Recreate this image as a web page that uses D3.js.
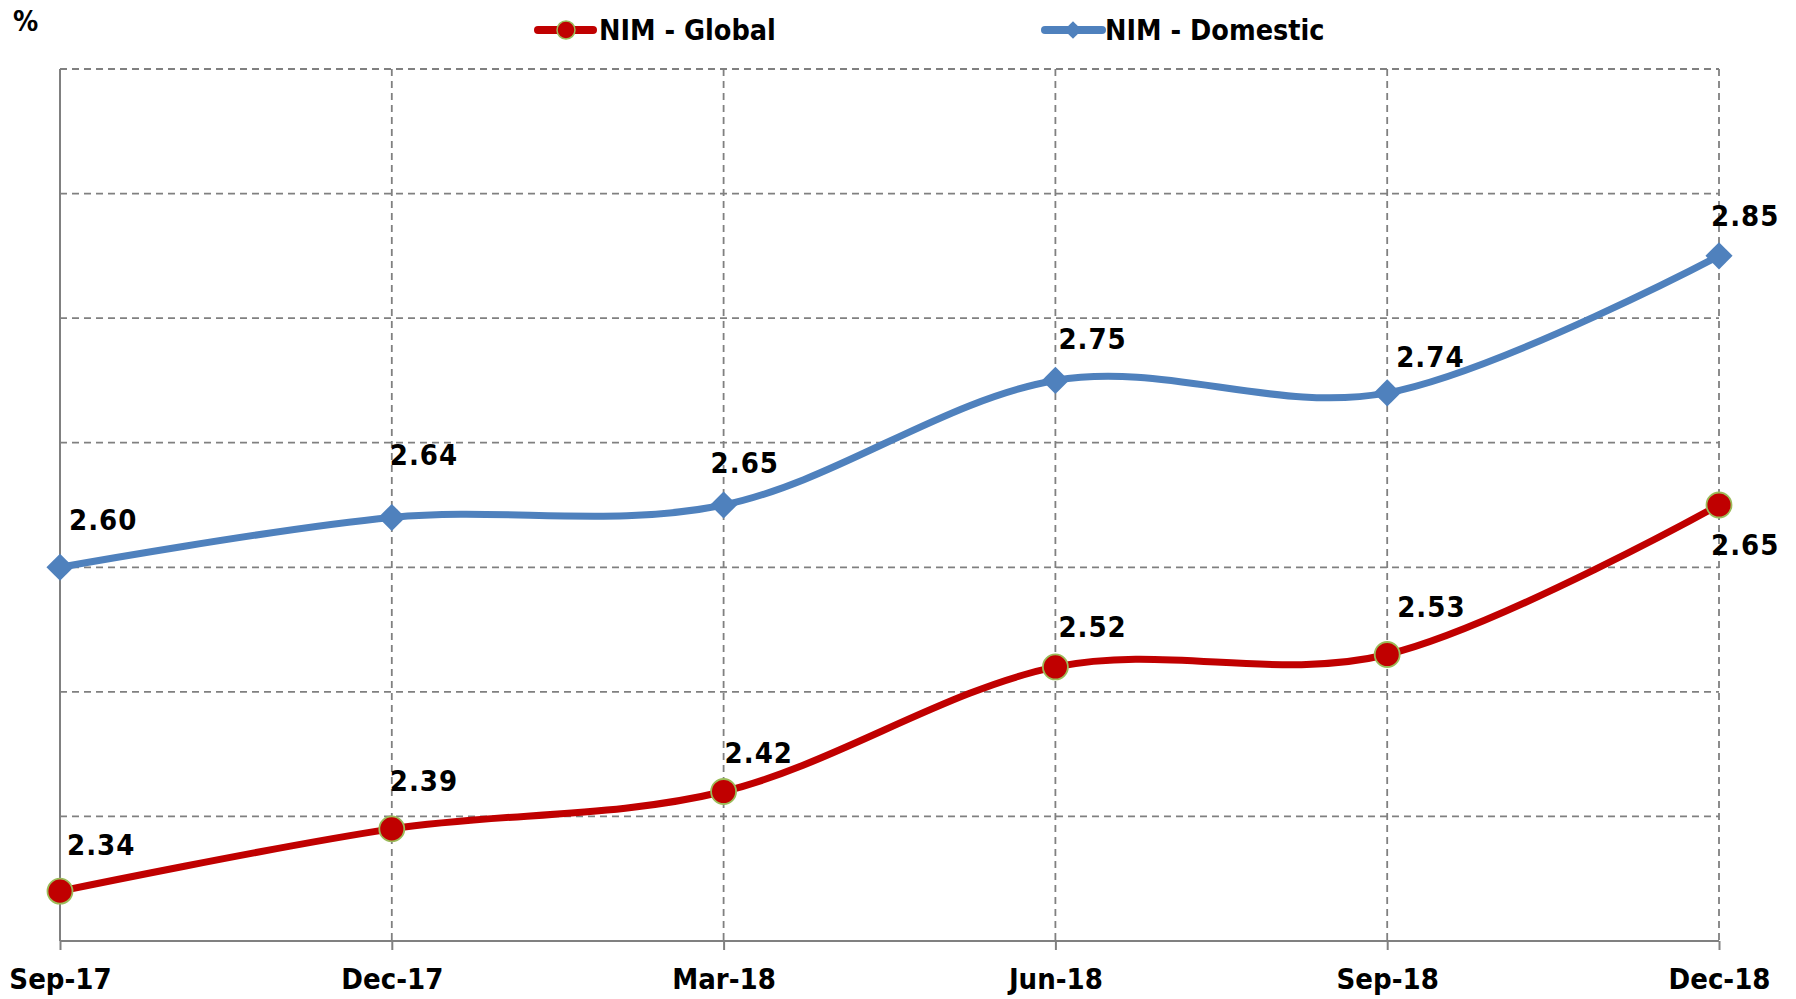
<!DOCTYPE html>
<html>
<head>
<meta charset="utf-8">
<script src="https://cdn.jsdelivr.net/npm/d3@7"></script>
<style>
  body { margin: 0; background: #fff; }
  text { font-family: "DejaVu Sans Condensed", "DejaVu Sans", sans-serif; font-weight: bold; font-stretch: condensed; fill: #000; }
</style>
</head>
<body>
<svg id="chart" width="1796" height="999"></svg>
<script>
// data
var quarters = ["Sep-17", "Dec-17", "Mar-18", "Jun-18", "Sep-18", "Dec-18"];
var nimGlobal = [2.34, 2.39, 2.42, 2.52, 2.53, 2.65];
var nimDomestic = [2.60, 2.64, 2.65, 2.75, 2.74, 2.85];
var yTicks = [2.3, 2.4, 2.5, 2.6, 2.7, 2.8, 2.9, 3.0];

// label nudges (px, relative to the point)
var domOffsets = [[9, -48], [-2, -63], [-13, -42], [3, -42], [9, -36], [-8, -40]];
var globOffsets = [[7, -47], [-2, -48], [1, -39], [3, -40], [10, -48], [-8, 40]];

var plotLeft = 60, plotRight = 1719, plotTop = 69, plotBottom = 941;
var red = "#C00000", blue = "#4F81BD", grid = "#808080";

var svg = d3.select("#chart");

var x = d3.scalePoint()
	.domain(quarters)
	.range([plotLeft, plotRight]);

var y = d3.scaleLinear()
	.domain([2.3, 3.0])
	.range([plotBottom, plotTop]);

// horizontal gridlines
svg.append("g")
	.selectAll("line")
	.data(yTicks.slice(1))
	.enter()
	.append("line")
	.attr("x1", plotLeft).attr("x2", plotRight)
	.attr("y1", d => y(d)).attr("y2", d => y(d))
	.attr("stroke", grid)
	.attr("stroke-width", 1.8)
	.attr("stroke-dasharray", "7,5");

// vertical gridlines
svg.append("g")
	.selectAll("line")
	.data(quarters.slice(1))
	.enter()
	.append("line")
	.attr("x1", d => x(d)).attr("x2", d => x(d))
	.attr("y1", plotTop).attr("y2", plotBottom)
	.attr("stroke", grid)
	.attr("stroke-width", 1.8)
	.attr("stroke-dasharray", "7,5");

// y axis line
svg.append("line")
	.attr("x1", plotLeft).attr("x2", plotLeft)
	.attr("y1", plotTop).attr("y2", plotBottom)
	.attr("stroke", grid)
	.attr("stroke-width", 2);

// x axis
var xAxis = svg.append("g")
	.attr("transform", "translate(0," + plotBottom + ")")
	.call(d3.axisBottom(x).tickSize(9).tickPadding(18));
xAxis.select(".domain")
	.attr("stroke", grid)
	.attr("stroke-width", 2)
	.attr("d", "M" + plotLeft + ",0H" + plotRight);
xAxis.selectAll(".tick line").attr("stroke", grid).attr("stroke-width", 2);
xAxis.selectAll(".tick text")
	.style("font-size", "29px")
	.attr("font-family", null);

// lines
var line = d3.line()
	.x((d, i) => x(quarters[i]))
	.y(d => y(d))
	.curve(d3.curveCardinal.tension(0));

svg.append("path")
	.datum(nimDomestic)
	.attr("d", line)
	.attr("fill", "none")
	.attr("stroke", blue)
	.attr("stroke-width", 7);

svg.append("path")
	.datum(nimGlobal)
	.attr("d", line)
	.attr("fill", "none")
	.attr("stroke", red)
	.attr("stroke-width", 7);

// markers
var diamond = d3.symbol().type(d3.symbolDiamond2).size(470);

svg.append("g")
	.selectAll("path")
	.data(nimDomestic)
	.enter()
	.append("path")
	.attr("d", diamond)
	.attr("transform", (d, i) => "translate(" + x(quarters[i]) + "," + y(d) + ")")
	.attr("fill", blue);

svg.append("g")
	.selectAll("circle")
	.data(nimGlobal)
	.enter()
	.append("circle")
	.attr("cx", (d, i) => x(quarters[i]))
	.attr("cy", d => y(d))
	.attr("r", 12.5)
	.attr("fill", red)
	.attr("stroke", "#9BBB59")
	.attr("stroke-width", 1.8);

// data labels
function addLabels(values, offsets) {
	svg.append("g")
		.selectAll("text")
		.data(values)
		.enter()
		.append("text")
		.attr("x", (d, i) => x(quarters[i]) + offsets[i][0])
		.attr("y", (d, i) => y(d) + offsets[i][1])
		.attr("dy", "0.36em")
		.style("font-size", "29px")
		.style("letter-spacing", "1px")
		.text(d => d.toFixed(2));
}
addLabels(nimDomestic, domOffsets);
addLabels(nimGlobal, globOffsets);

// unit
svg.append("text")
	.attr("x", 13)
	.attr("y", 21)
	.attr("dy", "0.36em")
	.style("font-size", "28px")
	.text("%");

// legend
var legend = svg.append("g");
var lg = legend.append("g").attr("transform", "translate(538,30)");
lg.append("line").attr("x1", 0).attr("x2", 55).attr("stroke", red)
	.attr("stroke-width", 8).attr("stroke-linecap", "round");
lg.append("circle").attr("cx", 28).attr("r", 9).attr("fill", red)
	.attr("stroke", "#9BBB59").attr("stroke-width", 1.5);
lg.append("text").attr("x", 61).attr("dy", "0.36em").style("font-size", "28.5px").text("NIM - Global");

var ld = legend.append("g").attr("transform", "translate(1045,30)");
ld.append("line").attr("x1", 0).attr("x2", 57).attr("stroke", blue)
	.attr("stroke-width", 8).attr("stroke-linecap", "round");
ld.append("path").attr("d", d3.symbol().type(d3.symbolDiamond2).size(200))
	.attr("transform", "translate(28,0)").attr("fill", blue);
ld.append("text").attr("x", 60).attr("dy", "0.36em").style("font-size", "28.5px").text("NIM - Domestic");
</script>
</body>
</html>
